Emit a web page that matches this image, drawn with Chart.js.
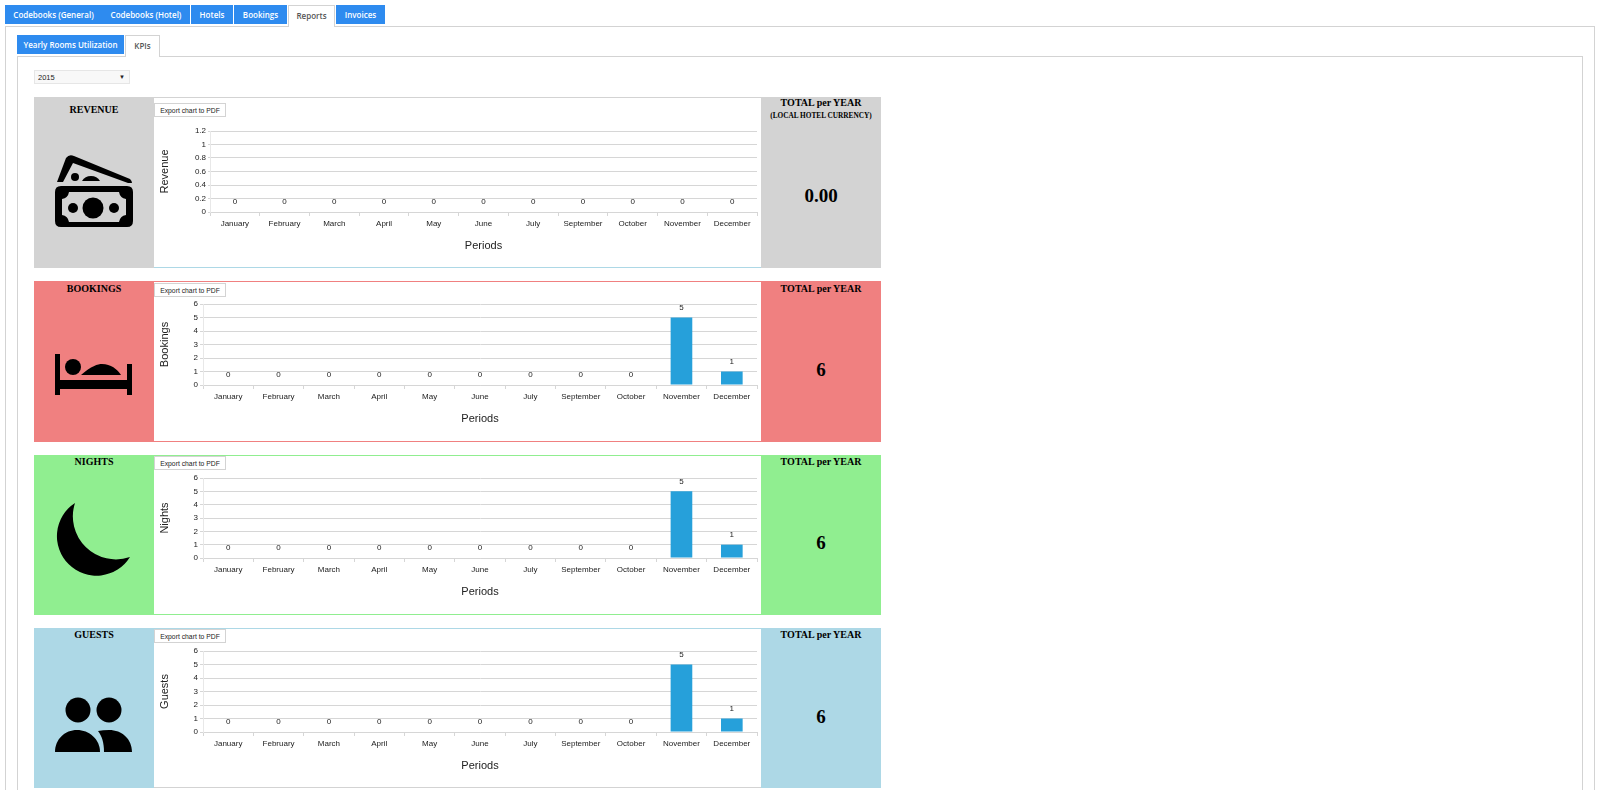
<!DOCTYPE html>
<html>
<head>
<meta charset="utf-8">
<script src="https://cdn.jsdelivr.net/npm/chart.js@4"></script>
<style>
html, body { margin: 0; padding: 0; background: #fff; overflow: hidden; }
body { width: 1600px; height: 790px; position: relative; font-family: "Open Sans", sans-serif; }
.tab { position: absolute; box-sizing: border-box; background: #2e8bef; color: #fff; font-size: 8px; font-weight: 600; text-align: center; white-space: nowrap; }
.tab.on { background: #fff; color: #555; border: 1px solid #d3d3d3; border-bottom: 0; z-index: 2; }
.frame { position: absolute; box-sizing: border-box; border: 1px solid #d3d3d3; }
.select { position: absolute; left: 34px; top: 70px; width: 96px; height: 14px; box-sizing: border-box; background: #f8f8f8; border: 1px solid #e6e6e6; font: 7.5px/13px "Liberation Sans", sans-serif; color: #222; padding-left: 3px; }
.select i { position: absolute; right: 4px; top: 0; font-style: normal; font-size: 6px; }
.side { position: absolute; width: 120px; text-align: center; font-family: "Liberation Serif", serif; font-weight: 700; color: #000; }
.side .head { font-size: 10px; line-height: 12px; }
.side .sub { font-size: 7.3px; line-height: 12px; padding-top: 1px; }
.side .big { position: absolute; left: 0; right: 0; font-size: 19px; line-height: 24px; }
.mid { position: absolute; left: 154px; width: 607px; box-sizing: border-box; background: #fff; }
.mid canvas { position: absolute; left: 0; top: 0; }
.export { position: absolute; left: 154px; width: 72px; height: 14px; box-sizing: border-box; background: #fff; border: 1px solid #d3d3d3; font: 6.8px/13px "Liberation Sans", sans-serif; text-align: center; color: #222; z-index: 3; }
</style>
</head>
<body>
<script>
const months = ['January', 'February', 'March', 'April', 'May', 'June', 'July', 'September', 'October', 'November', 'December'];
const revenueValues = [0, 0, 0, 0, 0, 0, 0, 0, 0, 0, 0];
const bookingsValues = [0, 0, 0, 0, 0, 0, 0, 0, 0, 5, 1];
const nightsValues = [0, 0, 0, 0, 0, 0, 0, 0, 0, 5, 1];
const guestsValues = [0, 0, 0, 0, 0, 0, 0, 0, 0, 5, 1];
const revenueTicks = [0, 0.2, 0.4, 0.6, 0.8, 1, 1.2];
const countTicks = [0, 1, 2, 3, 4, 5, 6];

const mainTabs = [['Codebooks (General)', 5, 97], ['Codebooks (Hotel)', 102, 88], ['Hotels', 191, 42], ['Bookings', 234, 53], ['Reports', 288, 47, 1], ['Invoices', 336, 49]];
const subTabs = [['Yearly Rooms Utilization', 17, 107], ['KPIs', 125, 35, 1]];

const icons = {
  money: '<path d="M2 27 L11 3 Q14 -1 19 1 L75 24 Q77 26 77 28 L73 28 L18 8 L8 27 Z"/><circle cx="20" cy="22" r="4"/><path d="M27 26 Q30 21 36 21 Q42 21 45 26 Z"/><path fill-rule="evenodd" d="M6 31 H72 Q78 31 78 37 V66 Q78 72 72 72 H6 Q0 72 0 66 V37 Q0 31 6 31 Z M14 37 Q13 43 7 44 V60 Q13 61 14 67 H64 Q65 61 71 60 V44 Q65 43 64 37 Z"/><circle cx="38" cy="53" r="10.5"/><circle cx="18" cy="53" r="5"/><circle cx="59" cy="53" r="5"/>',
  bed: '<rect x="0" y="0" width="5" height="41"/><rect x="72" y="10" width="5" height="31"/><rect x="0" y="26" width="77" height="9"/><circle cx="18" cy="13" r="8"/><path d="M26 21 C36 12 43 10 47 10 C56 10 62 15 66 21 Z"/>',
  moon: '<path d="M20 0 A39.5 39.5 0 1 0 75 54 A43 43 0 0 1 20 0 Z"/>',
  guests: '<circle cx="23" cy="13" r="12.5"/><circle cx="54" cy="13" r="12.5"/><path d="M0 55 C0 42 10 33 22 33 C34 33 45 42 45 55 Z"/><path d="M43 34 Q48 33 54 33 C67 33 77 42 77 55 H49 C49 46 47 39 43 34 Z"/>'
};

const kpis = [
  { title: 'REVENUE', axis: 'Revenue', values: revenueValues, ticks: revenueTicks, max: 1.2, total: '0.00', sub: '(LOCAL HOTEL CURRENCY)', color: '#d3d3d3', topLine: '#d3d3d3', bottomLine: '#add8e6', top: 97, height: 171, plotTop: 34, plotH: 81, plotLeft: 56, stub: 2, headLeft: 7, headRight: 0, exportTop: 103, iconTop: 155, totalTop: 184, icon: 'money', iconW: 78, iconH: 73 },
  { title: 'BOOKINGS', axis: 'Bookings', values: bookingsValues, ticks: countTicks, max: 6, total: '6', color: '#f08080', topLine: '#f08080', bottomLine: '#f08080', top: 281, height: 161, plotTop: 23, plotH: 81, plotLeft: 49, stub: 3, headLeft: 2, headRight: 2, exportTop: 283, iconTop: 354, totalTop: 358, icon: 'bed', iconW: 77, iconH: 41 },
  { title: 'NIGHTS', axis: 'Nights', values: nightsValues, ticks: countTicks, max: 6, total: '6', color: '#90ee90', topLine: '#90ee90', bottomLine: '#90ee90', top: 455, height: 160, plotTop: 23, plotH: 80, plotLeft: 49, stub: 3, headLeft: 1, headRight: 1, exportTop: 456, iconTop: 503, totalTop: 531, icon: 'moon', iconW: 76, iconH: 76 },
  { title: 'GUESTS', axis: 'Guests', values: guestsValues, ticks: countTicks, max: 6, total: '6', color: '#add8e6', topLine: '#add8e6', bottomLine: '#d3d3d3', top: 628, height: 160, plotTop: 23, plotH: 81, plotLeft: 49, stub: 3, headLeft: 1, headRight: 1, exportTop: 629, iconTop: 697, totalTop: 705, icon: 'guests', iconW: 77, iconH: 56 }
];

function addEl(cls, css, html) {
  const el = document.createElement('div');
  el.className = cls;
  el.style.cssText = css;
  if (html !== undefined) el.innerHTML = html;
  document.body.appendChild(el);
  return el;
}

addEl('frame', 'left:5px;top:26px;width:1590px;height:780px');
addEl('frame', 'left:17px;top:56px;width:1566px;height:750px');
mainTabs.forEach(t => addEl('tab' + (t[3] ? ' on' : ''), `left:${t[1]}px;top:5px;width:${t[2]}px;height:${t[3] ? 22 : 19}px;line-height:19px`, t[0]));
subTabs.forEach(t => addEl('tab' + (t[3] ? ' on' : ''), `left:${t[1]}px;top:35px;width:${t[2]}px;height:${t[3] ? 22 : 19}px;line-height:19px`, t[0]));
addEl('select', '', '2015<i>&#9660;</i>');

// writes the value above every bar, zero ones included
const valueLabels = {
  id: 'valueLabels',
  afterDatasetsDraw(chart) {
    const ctx = chart.ctx;
    ctx.save();
    ctx.font = '8px "Liberation Sans", sans-serif';
    ctx.fillStyle = '#222';
    ctx.textAlign = 'center';
    ctx.textBaseline = 'middle';
    chart.getDatasetMeta(0).data.forEach((bar, i) => {
      ctx.fillText(chart.data.datasets[0].data[i], bar.x, bar.y - 10);
    });
    ctx.restore();
  }
};

kpis.forEach(k => {
  addEl('side', `left:34px;top:${k.top}px;height:${k.height}px;background:${k.color}`,
    `<div class="head" style="padding-top:${k.headLeft}px">${k.title}</div>`);
  addEl('side', `left:761px;top:${k.top}px;height:${k.height}px;background:${k.color}`,
    `<div class="head" style="padding-top:${k.headRight}px">TOTAL per YEAR</div>` + (k.sub ? `<div class="sub">${k.sub}</div>` : '') +
    `<div class="big" style="top:${k.totalTop - k.top}px">${k.total}</div>`);
  addEl('', `position:absolute;left:55px;top:${k.iconTop}px;width:${k.iconW}px;height:${k.iconH}px`,
    `<svg width="${k.iconW}" height="${k.iconH}" viewBox="0 0 ${k.iconW} ${k.iconH}">${icons[k.icon]}</svg>`);
  const mid = addEl('mid', `top:${k.top}px;height:${k.height}px;border-top:1px solid ${k.topLine};border-bottom:1px solid ${k.bottomLine}`);
  addEl('export', `top:${k.exportTop}px`, 'Export chart to PDF');

  const canvas = document.createElement('canvas');
  canvas.style.cssText = `top:-1px;width:607px;height:${k.height}px`;
  mid.appendChild(canvas);
  new Chart(canvas, {
    type: 'bar',
    data: {
      labels: months,
      datasets: [{ label: k.axis, data: k.values, backgroundColor: '#26a0da', categoryPercentage: 1, barPercentage: 0.43 }]
    },
    plugins: [valueLabels],
    options: {
      responsive: false,
      animation: false,
      layout: { padding: { left: 0, right: 4, top: k.plotTop, bottom: k.height - k.plotTop - k.plotH - 41 } },
      plugins: { legend: { display: false }, tooltip: { enabled: false } },
      scales: {
        x: {
          afterFit: s => { s.height = 41; },
          grid: { drawOnChartArea: false, color: '#d6d6d6', tickLength: 4 },
          border: { color: '#d6d6d6' },
          ticks: { color: '#222', font: { family: 'Liberation Sans', size: 8 }, maxRotation: 0, autoSkip: false, padding: 3 },
          title: { display: true, text: 'Periods', color: '#222', font: { family: 'Liberation Sans', size: 11 }, padding: 0 }
        },
        y: {
          min: 0,
          max: k.max,
          afterFit: s => { s.width = k.plotLeft; },
          afterBuildTicks: s => { s.ticks = k.ticks.map(v => ({ value: v })); },
          grid: { color: '#d6d6d6', tickLength: k.stub },
          border: { color: '#e8e8e8' },
          ticks: { color: '#222', font: { family: 'Liberation Sans', size: 8 }, padding: 2, callback: v => String(v) },
          title: { display: true, text: k.axis, color: '#222', font: { family: 'Liberation Sans', size: 11 }, padding: { top: 4, bottom: 0 } }
        }
      }
    }
  });
});
</script>
</body>
</html>
